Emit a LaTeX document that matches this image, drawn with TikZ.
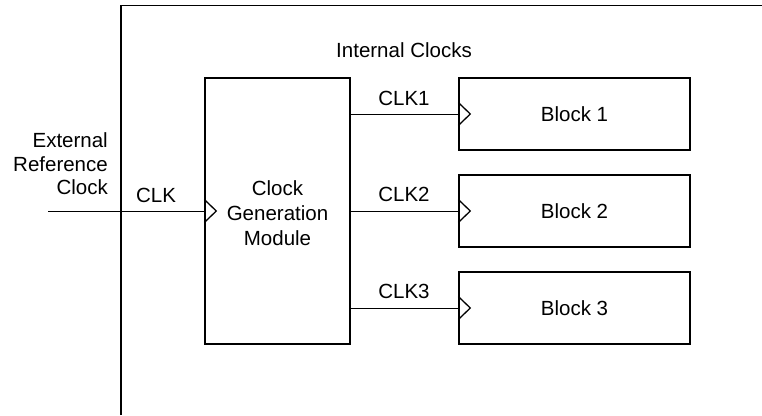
\documentclass[tikz,border=0pt]{standalone}
\usepackage{fontspec}
\setmainfont{Liberation Sans}
\usetikzlibrary{calc}

\begin{document}
\begin{tikzpicture}[x=1pt,y=-1pt,
  every node/.style={font=\fontsize{20.5}{23.5}\selectfont, inner sep=0pt},
  box/.style={draw=black, line width=1.4pt, rectangle},
  wire/.style={draw=black, line width=0.9pt},
  clkmark/.style={draw=black, line width=1.3pt, line join=miter},
  lbl/.style={align=center}]
  \useasboundingbox (0,0) rectangle (762,415);

  % chip boundary (only its top and left edges fall inside the frame)
  \draw[line width=1.5pt] (121,415) -- (121,5.5) -- (762,5.5);

  % clock generation module and the clocked blocks
  \node[box, minimum width=145pt, minimum height=266pt] (cgm) at (277.5,211) {};
  \node[lbl, font=\fontsize{20.5}{25}\selectfont] (cgmlbl) at (277.5,213)
    {Clock\\Generation\\Module};
  \node[box, minimum width=231pt, minimum height=72pt] (b1) at (574.5,114) {Block 1};
  \node[box, minimum width=231pt, minimum height=72pt] (b2) at (574.5,211) {Block 2};
  \node[box, minimum width=231pt, minimum height=72pt] (b3) at (574.5,308) {Block 3};

  % external reference clock input
  \coordinate (ext) at (48,211);
  \draw[wire] (ext) -- (cgm.west);
  \node[lbl, align=right, anchor=east] (extlbl) at (108,164)
    {External\\Reference\\Clock};
  \node (clk) at (156,195) {CLK};

  % internal clock distribution
  \draw[wire] (b1.west -| cgm.east) -- (b1.west);
  \draw[wire] (b2.west -| cgm.east) -- (b2.west);
  \draw[wire] (b3.west -| cgm.east) -- (b3.west);
  \node (clk1) at (404,98) {CLK1};
  \node (clk2) at (404,194) {CLK2};
  \node (clk3) at (404,291) {CLK3};
  \node (intclk) at (404,50) {Internal Clocks};

  % clock-input markers
  \foreach \n in {cgm.west, b1.west, b2.west, b3.west}
    \draw[clkmark] ($(\n)+(0,-11.5)$) -- ++(12,11.5) -- ++(-12,11.5);
\end{tikzpicture}
\end{document}
